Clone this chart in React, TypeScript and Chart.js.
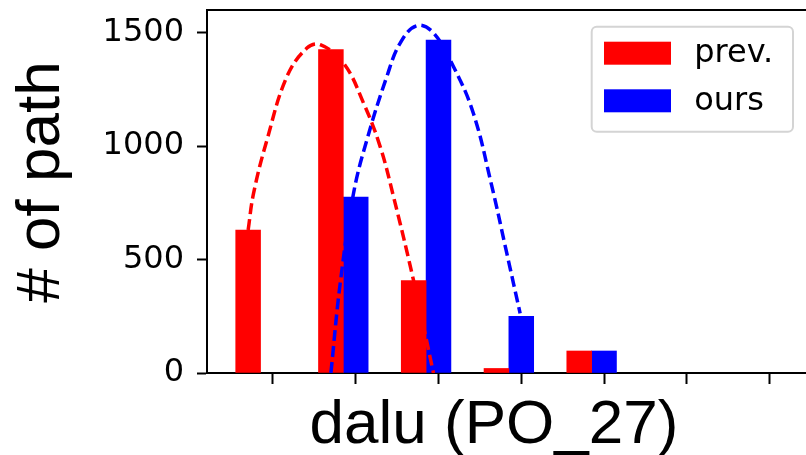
import React, { useEffect, useRef } from 'react';
import { Chart, registerables } from 'chart.js';

Chart.register(...registerables);

// ---- data ----
const BINS = [0, 1, 2, 3, 4, 5, 6];
const PREV = [630, 1425, 407, 20, 97, 0, 0];
const OURS = [0, 775, 1467, 250, 97, 0, 0];
const SERIES_LABELS = ['prev.', 'ours'];
const X_TICKS = [0, 1, 2, 3, 4, 5, 6];
const Y_TICKS = [0, 500, 1000, 1500];
const X_LABEL = 'dalu (PO_27)';
const Y_LABEL = '# of path';

// dashed fit curves
const PREV_FIT_X = [-0.3, -0.234, -0.072, 0.169, 0.41, 0.571, 0.852, 1.094, 1.295, 1.456, 1.697, 1.939];
const PREV_FIT_Y = [630, 793, 1028, 1307, 1432, 1447, 1366, 1190, 998, 778, 410, 0];
const OURS_FIT_X = [0.7, 0.8125, 0.973, 1.135, 1.376, 1.537, 1.738, 1.939, 2.18, 2.42, 2.64, 2.825, 2.986];
const OURS_FIT_Y = [0, 395, 791, 1028, 1307, 1454, 1531, 1499, 1351, 1146, 830, 528, 263];

const BAR_SHIFT = 0.3;
const X_MIN = -0.797;
const X_MAX = 6.44;
const Y_MAX = 1600;

const RED = '#ff0000';
const BLUE = '#0000ff';
const TICK_FONT = { family: '"DejaVu Sans", sans-serif', size: 32 };

const labelsPlugin = {
  id: 'axisLabels',
  afterDraw(chart: any) {
    const { ctx, chartArea } = chart;
    ctx.save();
    ctx.fillStyle = '#000';
    ctx.font = '62px "Liberation Sans", Arial, sans-serif';
    ctx.textAlign = 'center';
    ctx.textBaseline = 'alphabetic';
    ctx.fillText(X_LABEL, chartArea.left + 287, chartArea.bottom + 70);
    ctx.translate(chartArea.left - 147.6, chartArea.top + 172);
    ctx.rotate(-Math.PI / 2);
    ctx.fillText(Y_LABEL, 0, 0);
    ctx.restore();
  },
};

const legendPlugin = {
  id: 'boxLegend',
  afterDraw(chart: any) {
    const { ctx, chartArea } = chart;
    const items = chart.data.datasets.filter((d: any) => d.type === 'bar');
    const right = chartArea.right - 13;
    const left = right - 201.3;
    const top = chartArea.top + 16.7;
    const h = 105;
    ctx.save();
    ctx.beginPath();
    (ctx as any).roundRect(left, top, right - left, h, 5);
    ctx.fillStyle = 'rgba(255,255,255,0.8)';
    ctx.fill();
    ctx.lineWidth = 2;
    ctx.strokeStyle = '#d4d4d4';
    ctx.stroke();
    ctx.font = '32px "DejaVu Sans", sans-serif';
    ctx.textBaseline = 'middle';
    ctx.textAlign = 'left';
    items.forEach((d: any, i: number) => {
      const y = top + 15 + i * 47.6;
      ctx.fillStyle = d.backgroundColor;
      ctx.fillRect(left + 12.3, y, 67, 23);
      ctx.fillStyle = '#000';
      ctx.fillText(d.label, left + 102.5, y + 12);
    });
    ctx.restore();
  },
};

const zeroPad = (scale: any) => {
  scale.paddingTop = 0;
  scale.paddingBottom = 0;
  scale.paddingLeft = 0;
  scale.paddingRight = 0;
};

const barPoints = (values: number[], shift: number) =>
  BINS.map((b, i) => ({ x: b - shift, y: values[i] })).filter((p) => p.y > 0);

export default function App() {
  const ref = useRef<HTMLCanvasElement | null>(null);

  useEffect(() => {
    if (!ref.current) return;
    const lineStyle = {
      borderWidth: 3.5,
      borderDash: [11, 5],
      pointRadius: 0,
      fill: false,
      tension: 0.4,
      order: 0,
    };
    const barStyle = {
      borderWidth: 0,
      grouped: false,
      barPercentage: 1,
      categoryPercentage: 1,
      order: 1,
    };
    const chart = new Chart(ref.current, {
      type: 'bar',
      data: {
        datasets: [
          {
            type: 'line',
            label: 'prev. fit',
            data: PREV_FIT_X.map((x, i) => ({ x, y: PREV_FIT_Y[i] })),
            borderColor: RED,
            ...lineStyle,
          },
          {
            type: 'line',
            label: 'ours fit',
            data: OURS_FIT_X.map((x, i) => ({ x, y: OURS_FIT_Y[i] })),
            borderColor: BLUE,
            ...lineStyle,
          },
          {
            type: 'bar',
            label: SERIES_LABELS[0],
            data: barPoints(PREV, BAR_SHIFT),
            backgroundColor: RED,
            ...barStyle,
          },
          {
            type: 'bar',
            label: SERIES_LABELS[1],
            data: barPoints(OURS, 0),
            backgroundColor: BLUE,
            ...barStyle,
          },
        ] as any,
      },
      options: {
        animation: false,
        responsive: false,
        maintainAspectRatio: false,
        layout: { padding: 0, autoPadding: false } as any,
        plugins: {
          legend: { display: false },
          tooltip: { enabled: false },
          title: { display: false },
        },
        scales: {
          x: {
            type: 'linear',
            position: 'bottom',
            min: X_MIN,
            max: X_MAX,
            offset: false,
            afterBuildTicks: (scale: any) => {
              scale.ticks = X_TICKS.map((v) => ({ value: v }));
            },
            afterFit: (scale: any) => {
              scale.height = 82;
              zeroPad(scale);
            },
            ticks: { callback: () => '', padding: 0, font: TICK_FONT, color: '#000' },
            grid: {
              display: true,
              offset: false,
              drawOnChartArea: false,
              drawTicks: true,
              tickLength: 11,
              tickWidth: 2,
              tickColor: '#000',
            },
            border: { display: true, color: '#000', width: 2 },
          },
          x2: {
            type: 'linear',
            position: 'top',
            axis: 'x',
            min: X_MIN,
            max: X_MAX,
            offset: false,
            afterFit: (scale: any) => {
              scale.height = 10;
              zeroPad(scale);
            },
            ticks: { display: false },
            grid: { display: false },
            border: { display: true, color: '#000', width: 2 },
          },
          y: {
            type: 'linear',
            position: 'left',
            min: 0,
            max: Y_MAX,
            afterBuildTicks: (scale: any) => {
              scale.ticks = Y_TICKS.map((v) => ({ value: v }));
            },
            afterFit: (scale: any) => {
              scale.width = 207;
              zeroPad(scale);
            },
            ticks: {
              font: TICK_FONT,
              color: '#000',
              padding: 13,
              callback: (v: any) => String(v),
            },
            grid: {
              display: true,
              drawOnChartArea: false,
              drawTicks: true,
              tickLength: 10,
              tickWidth: 2,
              tickColor: '#000',
            },
            border: { display: true, color: '#000', width: 2 },
          },
        } as any,
      },
      plugins: [labelsPlugin, legendPlugin],
    });
    return () => chart.destroy();
  }, []);

  return (
    <div style={{ position: 'fixed', left: 0, top: 0, width: 806, height: 455, background: '#fff' }}>
      <canvas ref={ref} width={806} height={455} style={{ display: 'block', width: 806, height: 455 }} />
    </div>
  );
}
